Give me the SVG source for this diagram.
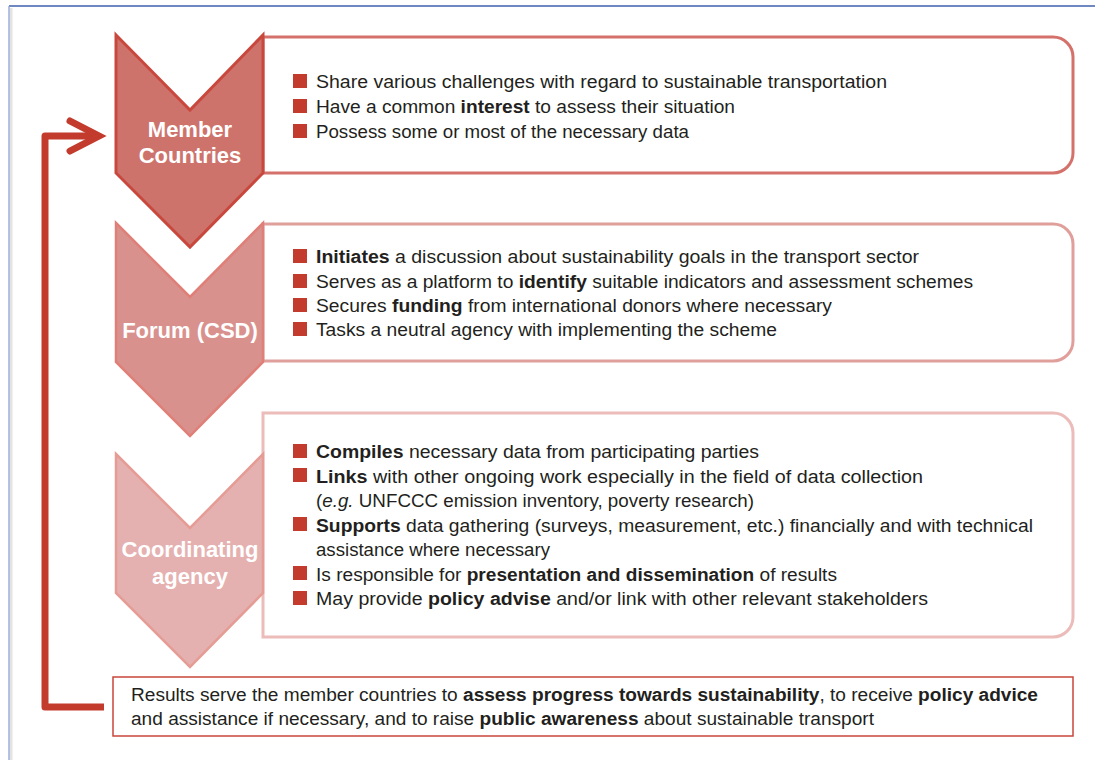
<svg xmlns="http://www.w3.org/2000/svg" width="1095" height="760" viewBox="0 0 1095 760">
<defs>
<style>
.t{font-family:"Liberation Sans",Arial,sans-serif;font-size:17.5px;fill:#231f20}
.b{font-weight:bold}
.it{font-style:italic}
.lab{font-family:"Liberation Sans",Arial,sans-serif;font-size:22px;font-weight:bold;fill:#ffffff;text-anchor:middle}
.bul{fill:#c23b2c}
</style>
</defs>
<rect x="0" y="0" width="1095" height="760" fill="#ffffff"/>
<g id="frame">
<line x1="11" y1="8" x2="11" y2="760" stroke="#e4e4e4" stroke-width="3"/>
<line x1="9" y1="6" x2="1095" y2="6" stroke="#3f5fae" stroke-width="1.3"/>
<line x1="9" y1="6" x2="9" y2="760" stroke="#8ea2d4" stroke-width="1.3"/>
</g>
<g id="box1">
<path d="M263,37 H1053 A20,20 0 0 1 1073,57 V153 A20,20 0 0 1 1053,173 H263 Z" fill="#fff" stroke="#d5716b" stroke-width="3"/>
<rect class="bul" x="293" y="74" width="14" height="14"/>
<rect class="bul" x="293" y="99" width="14" height="14"/>
<rect class="bul" x="293" y="124" width="14" height="14"/>
<text class="t" x="316" y="88" textLength="571" lengthAdjust="spacingAndGlyphs">Share various challenges with regard to sustainable transportation</text>
<text class="t" x="316" y="113" textLength="419" lengthAdjust="spacingAndGlyphs">Have a common <tspan class="b">interest</tspan> to assess their situation</text>
<text class="t" x="316" y="138" textLength="373" lengthAdjust="spacingAndGlyphs">Possess some or most of the necessary data</text>
</g>
<g id="box2">
<path d="M263,224 H1053 A20,20 0 0 1 1073,244 V341 A20,20 0 0 1 1053,361 H263 Z" fill="#fff" stroke="#e09f9b" stroke-width="3"/>
<rect class="bul" x="293" y="249" width="14" height="14"/>
<rect class="bul" x="293" y="274" width="14" height="14"/>
<rect class="bul" x="293" y="298" width="14" height="14"/>
<rect class="bul" x="293" y="322" width="14" height="14"/>
<text class="t" x="316" y="263" textLength="603" lengthAdjust="spacingAndGlyphs"><tspan class="b">Initiates</tspan> a discussion about sustainability goals in the transport sector</text>
<text class="t" x="316" y="288" textLength="657" lengthAdjust="spacingAndGlyphs">Serves as a platform to <tspan class="b">identify</tspan> suitable indicators and assessment schemes</text>
<text class="t" x="316" y="312" textLength="516" lengthAdjust="spacingAndGlyphs">Secures <tspan class="b">funding</tspan> from international donors where necessary</text>
<text class="t" x="316" y="336" textLength="461" lengthAdjust="spacingAndGlyphs">Tasks a neutral agency with implementing the scheme</text>
</g>
<g id="box3">
<path d="M263,413 H1053 A20,20 0 0 1 1073,433 V617 A20,20 0 0 1 1053,637 H263 Z" fill="#fff" stroke="#ebbcb9" stroke-width="3"/>
<rect class="bul" x="293" y="444" width="14" height="14"/>
<rect class="bul" x="293" y="468" width="14" height="14"/>
<rect class="bul" x="293" y="517" width="14" height="14"/>
<rect class="bul" x="293" y="566" width="14" height="14"/>
<rect class="bul" x="293" y="591" width="14" height="14"/>
<text class="t" x="316" y="458" textLength="443" lengthAdjust="spacingAndGlyphs"><tspan class="b">Compiles</tspan> necessary data from participating parties</text>
<text class="t" x="316" y="482.5" textLength="607" lengthAdjust="spacingAndGlyphs"><tspan class="b">Links</tspan> with other ongoing work especially in the field of data collection</text>
<text class="t" x="316" y="507" textLength="438" lengthAdjust="spacingAndGlyphs">(<tspan class="it">e.g.</tspan> UNFCCC emission inventory, poverty research)</text>
<text class="t" x="316" y="531.5" textLength="717" lengthAdjust="spacingAndGlyphs"><tspan class="b">Supports</tspan> data gathering (surveys, measurement, etc.) financially and with technical</text>
<text class="t" x="316" y="556" textLength="234" lengthAdjust="spacingAndGlyphs">assistance where necessary</text>
<text class="t" x="316" y="580.5" textLength="521" lengthAdjust="spacingAndGlyphs">Is responsible for <tspan class="b">presentation and dissemination</tspan> of results</text>
<text class="t" x="316" y="605" textLength="612" lengthAdjust="spacingAndGlyphs">May provide <tspan class="b">policy advise</tspan> and/or link with other relevant stakeholders</text>
</g>
<g id="chevron1">
<path d="M116,35 L190,110 L263,35 L263,173 L190,247 L116,173 Z" fill="#ce736c" stroke="#c9483e" stroke-width="3" stroke-linejoin="miter"/>
<text class="lab" x="190" y="137">Member</text>
<text class="lab" x="190" y="163">Countries</text>
</g>
<g id="chevron2">
<path d="M116,223 L190,297 L263,223 L263,362 L190,436 L116,362 Z" fill="#d9918d" stroke="#df7f77" stroke-width="2.5"/>
<text class="lab" x="190" y="338">Forum (CSD)</text>
</g>
<g id="chevron3">
<path d="M116,454 L190,528 L263,454 L263,593 L190,667 L116,593 Z" fill="#e5b1b0" stroke="#e59c95" stroke-width="2.5"/>
<text class="lab" x="190" y="557">Coordinating</text>
<text class="lab" x="190" y="584">agency</text>
</g>
<g id="results">
<rect x="113" y="677" width="960" height="59" fill="#fff" stroke="#c9453a" stroke-width="1.5"/>
<text class="t" x="131" y="700.5" textLength="907" lengthAdjust="spacingAndGlyphs">Results serve the member countries to <tspan class="b">assess progress towards sustainability</tspan>, to receive <tspan class="b">policy advice</tspan></text>
<text class="t" x="131" y="725" textLength="743" lengthAdjust="spacingAndGlyphs">and assistance if necessary, and to raise <tspan class="b">public awareness</tspan> about sustainable transport</text>
</g>
<g id="connectors">
<path d="M104,707 H45 V136 H97" fill="none" stroke="#c23b2c" stroke-width="7" stroke-linejoin="round"/>
<polyline points="70,121 99,136 70,151" fill="none" stroke="#c23b2c" stroke-width="7" stroke-linecap="round" stroke-linejoin="miter"/>
</g>
</svg>
